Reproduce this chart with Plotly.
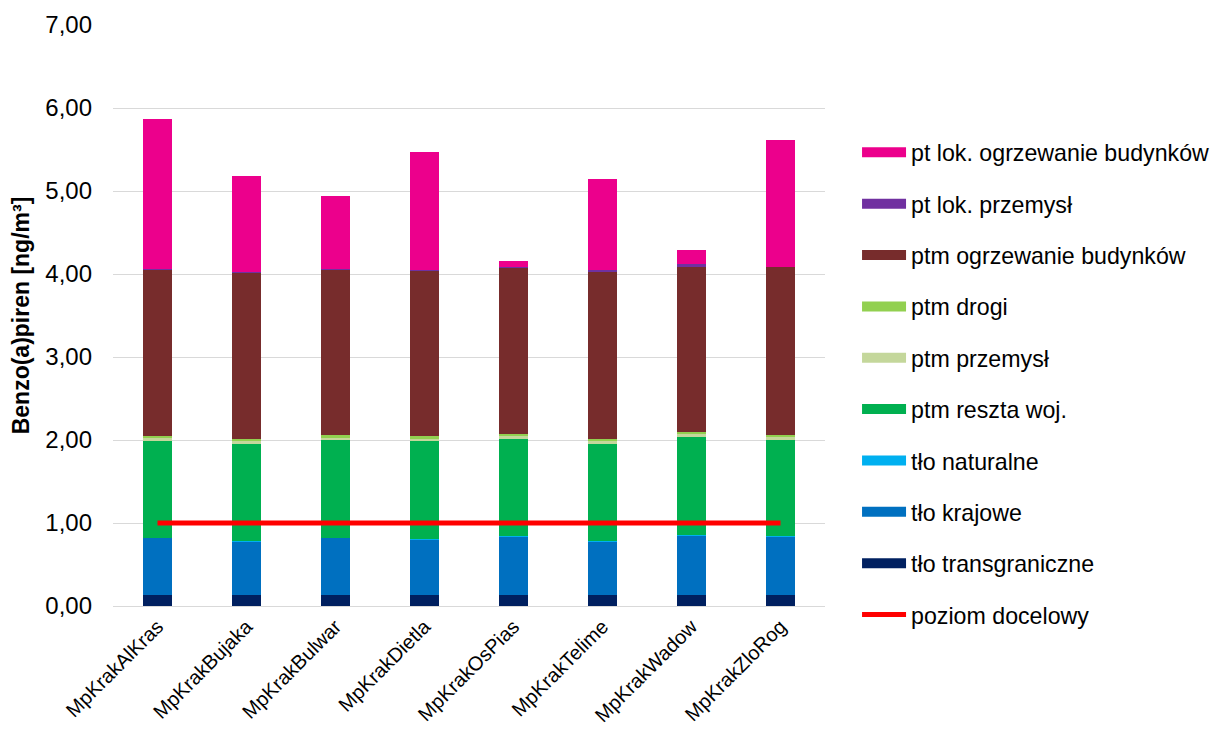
import plotly.graph_objects as go

stations = ["MpKrakAlKras", "MpKrakBujaka", "MpKrakBulwar", "MpKrakDietla",
            "MpKrakOsPias", "MpKrakTelime", "MpKrakWadow", "MpKrakZloRog"]

tlo_transgraniczne = [0.13, 0.13, 0.13, 0.13, 0.13, 0.13, 0.13, 0.13]
tlo_krajowe = [0.69, 0.65, 0.69, 0.67, 0.71, 0.645, 0.725, 0.705]
tlo_naturalne = [0.005, 0.005, 0.005, 0.005, 0.005, 0.005, 0.005, 0.005]
ptm_reszta_woj = [1.16, 1.17, 1.17, 1.18, 1.17, 1.175, 1.175, 1.165]
ptm_przemysl = [0.05, 0.04, 0.04, 0.03, 0.04, 0.04, 0.04, 0.04]
ptm_drogi = [0.015, 0.02, 0.02, 0.03, 0.02, 0.02, 0.02, 0.02]
ptm_ogrzewanie = [2.0, 2.005, 2.0, 2.0, 2.0, 2.02, 2.0, 2.02]
pt_lok_przemysl = [0.005, 0.005, 0.005, 0.005, 0.01, 0.01, 0.02, 0.005]
pt_lok_ogrzewanie = [1.81, 1.16, 0.88, 1.42, 0.07, 1.10, 0.17, 1.52]
poziom_docelowy = [1.0, 1.0, 1.0, 1.0, 1.0, 1.0, 1.0, 1.0]

series = [
    ("tło transgraniczne", tlo_transgraniczne, "#002060"),
    ("tło krajowe", tlo_krajowe, "#0070C0"),
    ("tło naturalne", tlo_naturalne, "#00B0F0"),
    ("ptm reszta woj.", ptm_reszta_woj, "#00B050"),
    ("ptm przemysł", ptm_przemysl, "#C4D79B"),
    ("ptm drogi", ptm_drogi, "#92D050"),
    ("ptm ogrzewanie budynków", ptm_ogrzewanie, "#772C2C"),
    ("pt lok. przemysł", pt_lok_przemysl, "#7030A0"),
    ("pt lok. ogrzewanie budynków", pt_lok_ogrzewanie, "#EC008C"),
]

fig = go.Figure()
for name, vals, col in series:
    fig.add_trace(go.Bar(x=stations, y=vals, name=name, marker_color=col,
                         marker_line_width=0, showlegend=False))
fig.add_trace(go.Scatter(x=stations, y=poziom_docelowy, mode="lines",
                         line=dict(color="#FF0000", width=5), showlegend=False,
                         name="poziom docelowy"))

# legend entries (legend-only swatches), top to bottom
legend_items = [(n, c) for n, _, c in reversed(series)] + [("poziom docelowy", "#FF0000")]
for i, (name, col) in enumerate(legend_items):
    w = 5 if name == "poziom docelowy" else 12
    fig.add_trace(go.Scatter(x=[None], y=[None], mode="lines", name=name,
                             line=dict(color=col, width=w),
                             legendgroup=f"g{i}", showlegend=True))

fig.update_layout(
    barmode="stack",
    bargap=0.685,
    width=1223, height=731,
    margin=dict(l=105, r=406, t=17, b=133, autoexpand=False),
    paper_bgcolor="white", plot_bgcolor="white",
    separators=", ",
    font=dict(family="Liberation Sans, Arial, sans-serif", size=24, color="#000000"),
    legend=dict(x=1.045, xanchor="left", y=0.818, yanchor="top",
                traceorder="grouped", tracegroupgap=18.2,
                font=dict(size=23.2), itemwidth=44),
    yaxis=dict(range=[0, 7], dtick=1, tickformat=".2f", automargin=False,
               showgrid=True, gridcolor="#D9D9D9", gridwidth=1,
               zeroline=False, showline=False, ticks="",
               ticklabelstandoff=20, tickfont=dict(size=24),
               title=dict(text="<b>Benzo(a)piren [ng/m³]</b>", font=dict(size=23), standoff=12)),
    xaxis=dict(tickangle=-45, tickfont=dict(size=20), showline=True, automargin=False,
               linecolor="#D9D9D9", linewidth=1, ticks=""),
)

fig.write_html("out.html")
